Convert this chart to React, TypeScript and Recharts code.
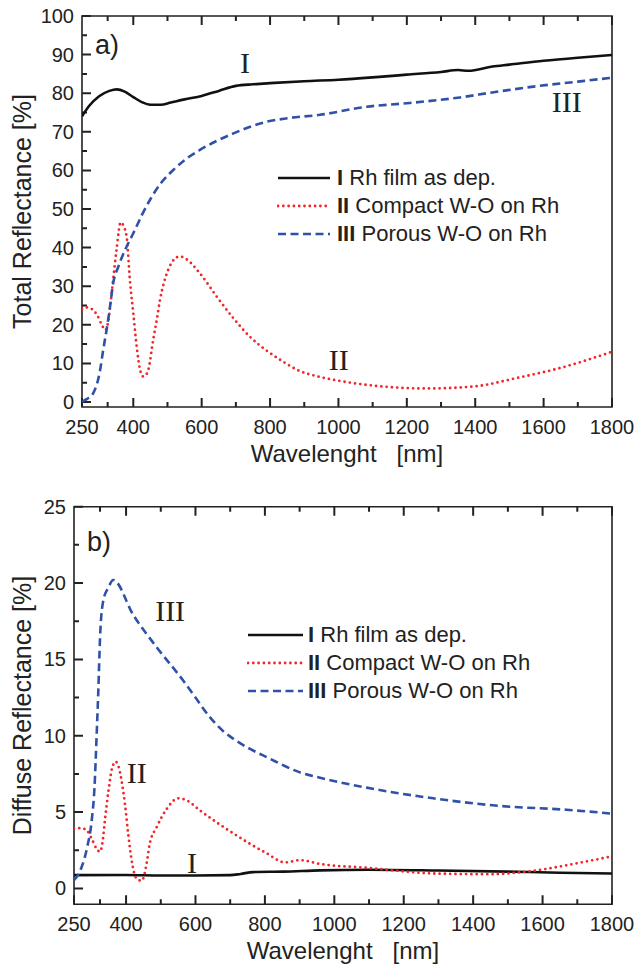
import React from 'react';
import { LineChart, Line, XAxis, YAxis, ReferenceDot, ReferenceArea, Legend } from 'recharts';

// ---- panel a) total reflectance ----
const totalRhWl = [250, 270, 300, 330, 352, 375, 400, 425, 450, 480, 510, 550, 600, 650, 700, 750, 800, 900, 1000, 1100, 1200, 1300, 1350, 1380, 1450, 1500, 1600, 1700, 1800];
const totalRhR = [74.0, 76.6, 79.2, 80.6, 81.0, 80.4, 79.0, 77.7, 77.0, 77.0, 77.6, 78.4, 79.3, 80.6, 81.9, 82.3, 82.6, 83.1, 83.5, 84.1, 84.8, 85.5, 86.0, 85.8, 86.9, 87.4, 88.4, 89.2, 89.9];

const totalCompactWl = [250, 265, 280, 295, 310, 318, 326, 334, 341, 351, 363, 372, 381, 390, 400, 410, 420, 429, 437, 444, 458, 470, 478, 490, 502, 520, 536, 555, 595, 644, 690, 741, 790, 839, 887, 936, 1014, 1130, 1258, 1394, 1521, 1648, 1800];
const totalCompactR = [24.0, 24.5, 24.0, 22.4, 19.6, 18.6, 20.5, 26.0, 31.6, 39.4, 46.5, 45.5, 42.5, 31.6, 23.0, 14.3, 8.3, 6.6, 7.0, 8.3, 16.0, 22.0, 26.4, 31.0, 34.2, 37.0, 37.7, 37.0, 33.3, 27.3, 22.0, 16.9, 13.3, 10.4, 8.0, 6.7, 5.3, 4.0, 3.5, 4.0, 6.2, 8.8, 13.0];

const totalPorousWl = [250, 265, 283, 303, 312, 322, 332, 341, 356, 376, 400, 425, 449, 480, 517, 555, 595, 693, 790, 850, 946, 1083, 1200, 1355, 1450, 1570, 1700, 1800];
const totalPorousR = [0.1, 0.8, 2.3, 8.3, 13.5, 18.7, 24.7, 30.7, 35.0, 39.4, 43.7, 48.4, 52.4, 56.6, 60.1, 63.0, 65.3, 69.6, 72.6, 73.5, 74.4, 76.5, 77.4, 78.9, 80.2, 81.7, 83.0, 84.0];

// ---- panel b) diffuse reflectance ----
const diffRhWl = [250, 400, 500, 600, 700, 730, 766, 853, 959, 1100, 1300, 1500, 1650, 1800];
const diffRhR = [0.87, 0.88, 0.85, 0.85, 0.87, 0.95, 1.07, 1.1, 1.18, 1.22, 1.17, 1.1, 1.03, 0.98];

const diffCompactWl = [250, 270, 287, 300, 315, 325, 332, 339, 350, 360, 370, 378, 387, 397, 406, 416, 430, 445, 459, 468, 488, 517, 550, 575, 613, 709, 805, 858, 901, 959, 1093, 1285, 1439, 1573, 1688, 1800];
const diffCompactR = [3.9, 3.95, 3.8, 3.3, 2.6, 2.4, 3.0, 4.45, 6.5, 7.9, 8.3, 8.0, 7.06, 5.5, 3.6, 1.85, 0.65, 0.5, 1.6, 2.9, 4.0, 5.2, 5.9, 5.76, 5.1, 3.6, 2.3, 1.7, 1.85, 1.6, 1.35, 0.98, 0.93, 1.15, 1.6, 2.1];

const diffPorousWl = [250, 272, 288, 301, 309, 315, 320, 325, 334, 349, 363, 421, 488, 565, 600, 642, 680, 709, 760, 805, 901, 949, 1093, 1285, 1477, 1669, 1800];
const diffPorousR = [0.54, 1.4, 2.7, 4.45, 6.6, 9.9, 12.9, 16.4, 18.8, 19.7, 20.2, 17.9, 15.8, 13.6, 12.5, 11.2, 10.3, 9.8, 9.1, 8.6, 7.6, 7.3, 6.6, 5.9, 5.4, 5.15, 4.9];

// ---- axes ----
const xDomain: [number, number] = [250, 1800];
const xTicks = [250, 325, 400, 500, 600, 700, 800, 900, 1000, 1100, 1200, 1300, 1400, 1500, 1600, 1700, 1800];
const xLabels = [250, 400, 600, 800, 1000, 1200, 1400, 1600, 1800];
const totalTicks = [0, 5, 10, 15, 20, 25, 30, 35, 40, 45, 50, 55, 60, 65, 70, 75, 80, 85, 90, 95, 100];
const totalLabels = [0, 10, 20, 30, 40, 50, 60, 70, 80, 90, 100];
const diffTicks = [0, 2.5, 5, 7.5, 10, 12.5, 15, 17.5, 20, 22.5, 25];
const diffLabels = [0, 5, 10, 15, 20, 25];

const seriesNames = ['Rh film as dep.', 'Compact W-O on Rh', 'Porous W-O on Rh'];
const seriesNumerals = ['I', 'II', 'III'];

const zip = (xs: number[], ys: number[]) => xs.map((wl, i) => ({ wl, r: ys[i] }));

const SANS = '"Liberation Sans", Arial, sans-serif';
const SERIF = '"Liberation Serif", "Times New Roman", serif';
const AXIS = '#222';
const TEXT = '#222';

const STYLES = [
  { stroke: '#111', width: 2.6, dash: undefined as string | undefined, cap: 'butt' },
  { stroke: '#f0262a', width: 2.8, dash: '0 5.3', cap: 'round' },
  { stroke: '#2f52a8', width: 2.6, dash: '8 4.5', cap: 'butt' },
];

function BottomLabel(p: any) {
  if (!p.labels.includes(p.payload.value)) return <g />;
  return (
    <text x={p.x} y={p.y + 27} textAnchor="middle" fontSize={20} fontFamily={SANS} fill={TEXT}>
      {p.payload.value}
    </text>
  );
}

function LeftLabel(p: any) {
  if (!p.labels.includes(p.payload.value)) return <g />;
  return (
    <text x={p.x - 8} y={p.y + 7} textAnchor="end" fontSize={20} fontFamily={SANS} fill={TEXT}>
      {p.payload.value}
    </text>
  );
}

// plot frame with inward ticks, laid out on the reference area's pixel box
const frameWithTicks = (yDomain: [number, number], yTicks: number[], yLabels: number[]) => (p: any) => {
  const x = Number(p.x), y = Number(p.y), w = Number(p.width), h = Number(p.height);
  const px = (v: number) => x + ((v - xDomain[0]) / (xDomain[1] - xDomain[0])) * w;
  const py = (v: number) => y + ((yDomain[1] - v) / (yDomain[1] - yDomain[0])) * h;
  let ticks = '';
  xTicks.forEach((v) => {
    const len = xLabels.includes(v) ? 9 : 5;
    ticks += `M${px(v)},${y + h}v${-len}`;
    if (v > 300) ticks += `M${px(v)},${y}v${len}`;
  });
  yTicks.forEach((v) => {
    const len = yLabels.includes(v) ? 9 : 5;
    ticks += `M${x},${py(v)}h${len}`;
  });
  return (
    <g>
      <path d={`M${x},${y}H${x + w}V${y + h}H${x}Z`} fill="none" stroke={AXIS} strokeWidth={1.6} />
      <path d={ticks} fill="none" stroke={AXIS} strokeWidth={2} />
    </g>
  );
};

function LegendBox({ lineW, gap }: { lineW: number; gap: number }) {
  return (
    <div style={{ fontFamily: SANS, fontSize: 22, color: TEXT }}>
      {seriesNames.map((name, i) => {
        const s = STYLES[i];
        return (
          <div key={name} style={{ display: 'flex', alignItems: 'center', height: 28, whiteSpace: 'nowrap' }}>
            <svg width={lineW} height={10} style={{ flexShrink: 0 }}>
              <line x1={1} x2={lineW - 1} y1={5} y2={5} stroke={s.stroke} strokeWidth={s.width}
                strokeDasharray={s.dash} strokeLinecap={s.cap as any} />
            </svg>
            <span style={{ marginLeft: gap, lineHeight: '28px' }}>
              <b>{seriesNumerals[i]}</b> {name}
            </span>
          </div>
        );
      })}
    </div>
  );
}

const roman = (text: string) => (p: any) => (
  <text x={p.cx} y={p.cy} textAnchor="middle" fontSize={30} fontFamily={SERIF} fill={TEXT}>{text}</text>
);

function Panel(props: {
  top: number; height: number; margin: any; yWidth: number;
  yDomain: [number, number]; yTicks: number[]; yLabels: number[]; yTitle: string;
  series: { wl: number; r: number }[][]; notes: { x: number; y: number; t: string }[];
  legendPos: { left: number; top: number; lineW: number; gap: number }; tag: string; tagPos: { left: number; top: number };
}) {
  const { margin, yDomain } = props;
  const [yMin, yMax] = yDomain;
  return (
    <div style={{ position: 'absolute', left: 0, top: props.top, width: 638, height: props.height }}>
      <LineChart width={638} height={props.height} margin={margin}>
        <XAxis xAxisId="b" dataKey="wl" type="number" domain={xDomain} allowDataOverflow ticks={xTicks}
          interval={0} height={50} tickSize={0} tickMargin={0} tickLine={false} axisLine={false}
          tick={(p: any) => <BottomLabel {...p} labels={xLabels} />}
          label={{
            content: (lp: any) => {
              const vb = lp.viewBox || {};
              return (
                <text x={vb.x + vb.width / 2} y={vb.y + 55} textAnchor="middle" fontSize={24}
                  fontFamily={SANS} fill={TEXT} style={{ whiteSpace: 'pre' }}>
                  {'Wavelenght   [nm]'}
                </text>
              );
            },
          }} />
        <YAxis yAxisId="l" type="number" domain={yDomain} allowDataOverflow ticks={props.yTicks}
          interval={0} width={props.yWidth} tickSize={0} tickMargin={0} tickLine={false} axisLine={false}
          tick={(p: any) => <LeftLabel {...p} labels={props.yLabels} />}
          label={{
            content: (lp: any) => {
              const vb = lp.viewBox || {};
              const cy = vb.y + vb.height / 2;
              return (
                <text x={22} y={cy} transform={`rotate(-90, 22, ${cy})`} textAnchor="middle"
                  dominantBaseline="central" fontSize={25} fontFamily={SANS} fill={TEXT}>
                  {props.yTitle}
                </text>
              );
            },
          }} />
        <ReferenceArea xAxisId="b" yAxisId="l" x1={xDomain[0]} x2={xDomain[1]} y1={yMin} y2={yMax}
          ifOverflow="visible" shape={frameWithTicks(yDomain, props.yTicks, props.yLabels)} />
        {props.series.map((d, i) => (
          <Line key={i} xAxisId="b" yAxisId="l" data={d} dataKey="r" type="monotone" dot={false}
            stroke={STYLES[i].stroke} strokeWidth={STYLES[i].width} strokeDasharray={STYLES[i].dash}
            strokeLinecap={STYLES[i].cap as any} isAnimationActive={false} name={seriesNames[i]} />
        ))}
        {props.notes.map((n) => (
          <ReferenceDot key={n.t} xAxisId="b" yAxisId="l" x={n.x} y={n.y} r={0} shape={roman(n.t)} />
        ))}
        <Legend layout="vertical" align="center" verticalAlign="middle"
          wrapperStyle={{ left: props.legendPos.left, top: props.legendPos.top, width: 360 }}
          content={() => <LegendBox lineW={props.legendPos.lineW} gap={props.legendPos.gap} />} />
      </LineChart>
      <div style={{
        position: 'absolute', left: props.tagPos.left, top: props.tagPos.top, fontFamily: SANS,
        fontSize: 27, lineHeight: '27px', color: TEXT,
      }}>{props.tag}</div>
    </div>
  );
}

export default function App() {
  return (
    <div style={{ position: 'absolute', left: 0, top: 0, width: 638, height: 967, background: '#fff' }}>
      <Panel top={0} height={480} margin={{ top: 16, right: 26, bottom: 23, left: 0 }} yWidth={82}
        yDomain={[-1.3, 100]} yTicks={totalTicks} yLabels={totalLabels} yTitle="Total Reflectance [%]"
        series={[zip(totalRhWl, totalRhR), zip(totalCompactWl, totalCompactR), zip(totalPorousWl, totalPorousR)]}
        notes={[{ x: 727, y: 85.2, t: 'I' }, { x: 1001, y: 8.3, t: 'II' }, { x: 1668, y: 75.1, t: 'III' }]}
        legendPos={{ left: 277, top: 164, lineW: 54, gap: 6 }} tag="a)" tagPos={{ left: 95, top: 32 }} />
      <Panel top={480} height={487} margin={{ top: 26.7, right: 26, bottom: 12.7, left: 0 }} yWidth={74}
        yDomain={[-1.04, 25]} yTicks={diffTicks} yLabels={diffLabels} yTitle="Diffuse Reflectance [%]"
        series={[zip(diffRhWl, diffRhR), zip(diffCompactWl, diffCompactR), zip(diffPorousWl, diffPorousR)]}
        notes={[{ x: 590, y: 1.0, t: 'I' }, { x: 431, y: 6.9, t: 'II' }, { x: 527, y: 17.5, t: 'III' }]}
        legendPos={{ left: 247, top: 141, lineW: 57, gap: 4 }} tag="b)" tagPos={{ left: 87, top: 49 }} />
    </div>
  );
}
